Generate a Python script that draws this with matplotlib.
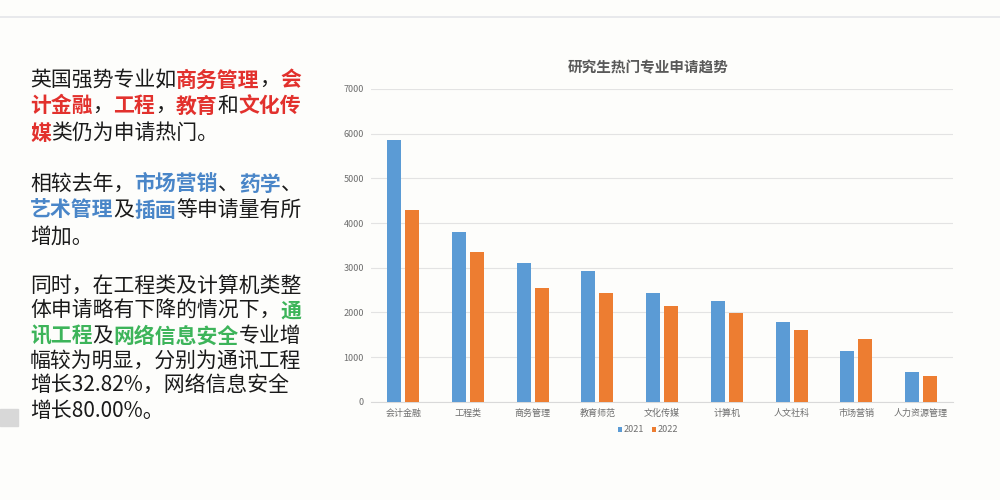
import matplotlib
matplotlib.use("Agg")
import matplotlib.pyplot as plt
import numpy as np
from matplotlib.patches import Rectangle

plt.rcParams["font.family"] = ["Noto Sans CJK SC", "DejaVu Sans"]

categories = ["会计金融", "工程类", "商务管理", "教育师范", "文化传媒",
              "计算机", "人文社科", "市场营销", "人力资源管理"]
apps_2021 = [5865, 3810, 3100, 2930, 2435, 2265, 1785, 1130, 660]
apps_2022 = [4290, 3350, 2540, 2440, 2140, 1975, 1605, 1395, 565]
series_names = ["2021", "2022"]
title = "研究生热门专业申请趋势"

RED, BLUE, GREEN, BLACK = "#e2312d", "#4a86c8", "#3db45a", "#1a1a1a"

# left-hand note, one entry per line: (text, colour, bold)
note_lines = [
    [("英国强势专业如", BLACK, False), ("商务管理", RED, True), ("，", BLACK, False), ("会", RED, True)],
    [("计金融", RED, True), ("，", BLACK, False), ("工程", RED, True), ("，", BLACK, False),
     ("教育", RED, True), ("和", BLACK, False), ("文化传", RED, True)],
    [("媒", RED, True), ("类仍为申请热门。", BLACK, False)],
    None,
    [("相较去年，", BLACK, False), ("市场营销", BLUE, True), ("、", BLACK, False),
     ("药学", BLUE, True), ("、", BLACK, False)],
    [("艺术管理", BLUE, True), ("及", BLACK, False), ("插画", BLUE, True), ("等申请量有所", BLACK, False)],
    [("增加。", BLACK, False)],
    None,
    [("同时，在工程类及计算机类整", BLACK, False)],
    [("体申请略有下降的情况下，", BLACK, False), ("通", GREEN, True)],
    [("讯工程", GREEN, True), ("及", BLACK, False), ("网络信息安全", GREEN, True), ("专业增", BLACK, False)],
    [("幅较为明显，分别为通讯工程", BLACK, False)],
    [("增长32.82%，网络信息安全", BLACK, False)],
    [("增长80.00%。", BLACK, False)],
]
note_y = [80, 106, 133, None, 184, 210, 237, None, 286, 311, 336, 361, 386, 411]

W, H = 1000, 500
fig = plt.figure(figsize=(W / 100, H / 100), dpi=100, facecolor="#fdfdfb")
fig.add_artist(plt.Line2D([0, 1], [1 - 17 / H, 1 - 17 / H], color="#e4e6ea", lw=1.2))

# bar chart
ax = fig.add_axes([0.371, 0.1966, 0.5823, 0.6254])
ax.set_facecolor("none")
x = np.arange(len(categories))
bw = 0.216
off = 0.139
ax.bar(x - off, apps_2021, bw, color="#5b9bd5", label=series_names[0], zorder=3)
ax.bar(x + off, apps_2022, bw, color="#ed7d31", label=series_names[1], zorder=3)
ax.set_xlim(-0.5, len(categories) - 0.5)
ax.set_ylim(0, 7000)
ax.set_yticks(np.arange(0, 7001, 1000))
ax.grid(axis="y", color="#e3e3e3", lw=0.8, zorder=0)
for s in ["top", "right", "left"]:
    ax.spines[s].set_visible(False)
ax.spines["bottom"].set_color("#d9d9d9")
ax.tick_params(length=0, labelsize=6.5, colors="#6e6e6e", pad=5)
ax.set_xticks(x)
ax.set_xticklabels(categories)

fig.text(0.648, 1 - 67 / H, title, ha="center", va="center",
         fontsize=10.5, fontweight="bold", color="#595959")

fig.legend(loc="center", bbox_to_anchor=(0.648, 1 - 430 / H), ncol=2, frameon=False,
           fontsize=6.5, handlelength=0.5, handleheight=0.5, handletextpad=0.2,
           columnspacing=0.8, labelcolor="#6e6e6e")

# left note, drawn segment by segment so colours change mid-line
renderer = fig.canvas.get_renderer()
for segs, yy in zip(note_lines, note_y):
    if segs is None:
        continue
    xp = 30
    for txt, col, bold in segs:
        t = fig.text(xp / W, 1 - yy / H, txt, color=col, fontsize=15,
                     fontweight="bold" if bold else "normal", va="center", ha="left")
        xp += t.get_window_extent(renderer).width

# little grey menu icon at the left edge
fig.add_artist(Rectangle((0, 1 - 426 / H), 18 / W, 17 / H, color="#d8d8d8",
                         transform=fig.transFigure))

fig.savefig("out.png", dpi=100, facecolor=fig.get_facecolor())
